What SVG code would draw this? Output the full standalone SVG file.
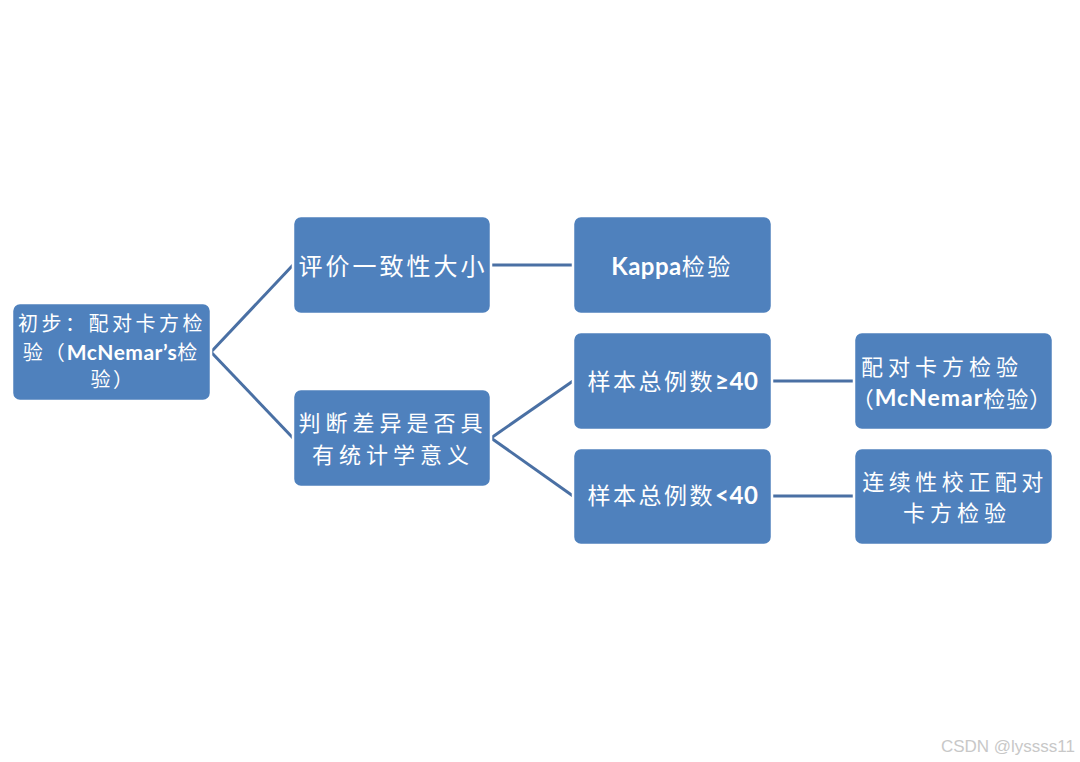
<svg xmlns="http://www.w3.org/2000/svg" width="1080" height="762" viewBox="0 0 1080 762">
<style>
.box{fill:#4F81BD;stroke:#ffffff;stroke-width:2.5}
.t{fill:#ffffff;font-family:"Noto Sans CJK SC","Noto Sans",sans-serif;font-size:23px;letter-spacing:2.5px;text-anchor:middle;dominant-baseline:central}
.b{font-family:"Lato","Noto Sans","Noto Sans CJK SC",sans-serif;font-weight:bold;letter-spacing:0.5px;font-size:24px}
.c{stroke:#4A70A4;stroke-width:3;fill:none}
</style>
<rect width="1080" height="762" fill="#ffffff"/>
<g id="connectors">
<path class="c" d="M211,352 L293,265"/>
<path class="c" d="M211,352 L293,438"/>
<path class="c" d="M491,265 L573,265"/>
<path class="c" d="M491,438 L573,381"/>
<path class="c" d="M491,438 L573,496"/>
<path class="c" d="M772,381 L854,381"/>
<path class="c" d="M772,496 L854,496"/>
</g>
<g id="root">
<rect class="box" x="12" y="303" width="199" height="98" rx="8"/>
<text class="t" x="112" y="322" style="font-size:20px;letter-spacing:3.5px">初步：配对卡方检</text>
<text class="t" x="111" y="351" style="font-size:20px;letter-spacing:2px">验（<tspan class="b" style="font-size:21px">McNemar’s</tspan>检</text>
<text class="t" x="113" y="378" style="font-size:20px">验）</text>
</g>
<g id="n-consistency">
<rect class="box" x="293" y="216" width="198" height="98" rx="8"/>
<text class="t" x="393" y="264" style="font-size:24px;letter-spacing:3px">评价一致性大小</text>
</g>
<g id="n-difference">
<rect class="box" x="293" y="389" width="198" height="98" rx="8"/>
<text class="t" x="393" y="421" style="font-size:22px;letter-spacing:5px">判断差异是否具</text>
<text class="t" x="393" y="453" style="font-size:22px;letter-spacing:5px">有统计学意义</text>
</g>
<g id="n-kappa">
<rect class="box" x="573" y="216" width="199" height="98" rx="8"/>
<text class="t" x="672" y="265"><tspan class="b">Kappa</tspan>检验</text>
</g>
<g id="n-ge40">
<rect class="box" x="573" y="332" width="199" height="98" rx="8"/>
<text class="t" x="673" y="380">样本总例数<tspan class="b">≥40</tspan></text>
</g>
<g id="n-lt40">
<rect class="box" x="573" y="448" width="199" height="97" rx="8"/>
<text class="t" x="673" y="494">样本总例数<tspan class="b">&lt;40</tspan></text>
</g>
<g id="n-mcnemar">
<rect class="box" x="854" y="332" width="199" height="98" rx="8"/>
<text class="t" x="942" y="365" style="font-size:22px;letter-spacing:5px">配对卡方检验</text>
<text class="t" x="952" y="397" style="font-size:22px;letter-spacing:1px">（<tspan class="b" style="font-size:23px;letter-spacing:1px">McNemar</tspan>检验）</text>
</g>
<g id="n-corrected">
<rect class="box" x="854" y="448" width="199" height="97" rx="8"/>
<text class="t" x="955" y="480" style="font-size:22px;letter-spacing:4.5px">连续性校正配对</text>
<text class="t" x="957" y="511" style="font-size:22px;letter-spacing:5px">卡方检验</text>
</g>
<text x="1075" y="752" text-anchor="end" fill="#c8c8c8" font-family="Liberation Sans, Arial, sans-serif" font-size="17">CSDN @lyssss11</text>
</svg>
